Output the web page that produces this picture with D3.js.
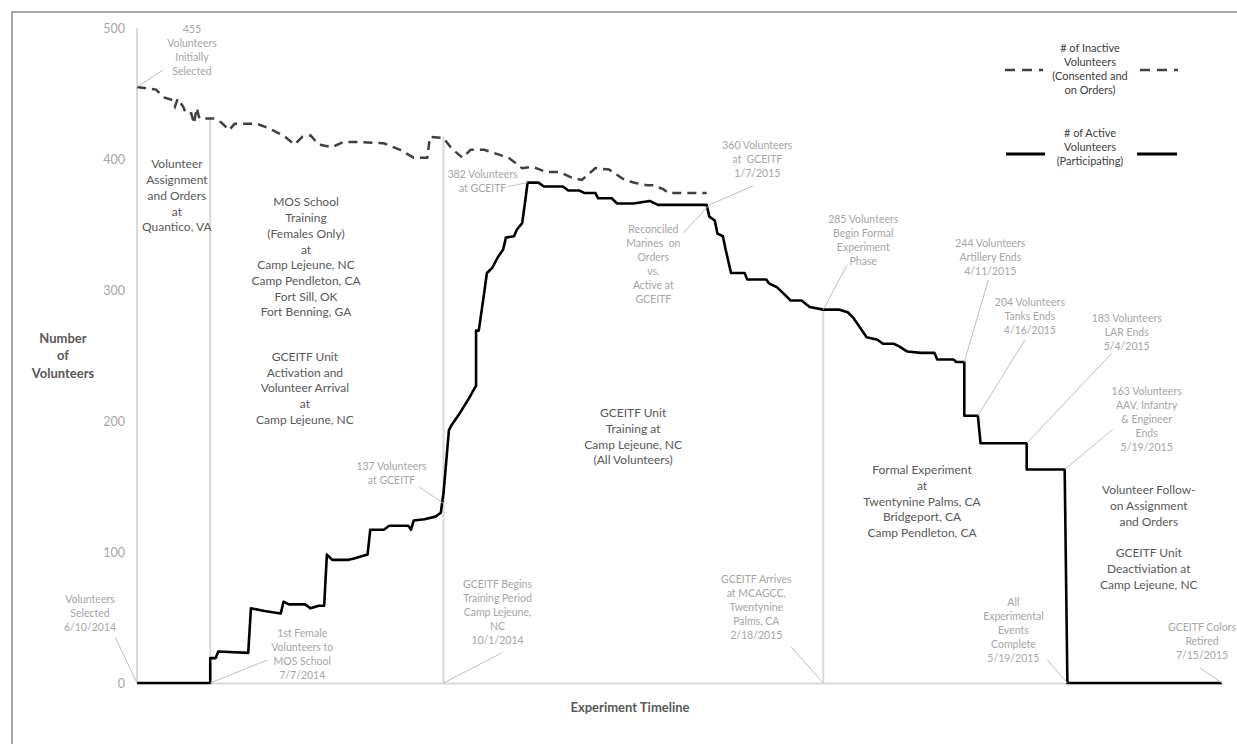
<!DOCTYPE html>
<html>
<head>
<meta charset="utf-8">
<script src="https://cdn.jsdelivr.net/npm/d3@7"></script>
<style>
  body { margin: 0; background: #fff; }
  svg text { font-family: Lato, "Open Sans", sans-serif; }
</style>
</head>
<body>
<script>
var w = 1237;
var h = 744;

// timeline: day 0 = volunteers selected 6/10/2014
var startDate = new Date(2014, 5, 10);
var endDate = new Date(2015, 6, 15);
var yTicks = [0, 100, 200, 300, 400, 500];

var activeDay = [0, 27, 27, 29, 30, 41, 42, 47, 53, 54, 56, 62, 64, 67, 69, 70, 72, 78, 80, 85,
  86, 91, 93, 100, 101, 102, 106, 110, 112, 113, 115, 116, 119, 122, 125, 125, 126, 128, 129, 131,
  133, 135, 136, 139, 140, 142, 143, 144, 148, 150, 157, 159, 163, 165, 169, 170, 175, 177, 183, 189,
  192, 210, 211, 213, 214, 216, 217, 219, 224, 225, 232, 233, 236, 238, 241, 245, 248, 253, 259, 262,
  264, 266, 269, 273, 275, 279, 281, 284, 289, 294, 295, 301, 302, 305, 305, 310, 311, 328, 328, 342,
  343, 400];
var activeCount = [0, 0, 19, 19, 24, 23, 57, 55, 53, 62, 60, 60, 57, 59, 59, 98, 94, 94, 95, 98,
  117, 117, 120, 120, 117, 124, 125, 127, 130, 145, 193, 197, 206, 216, 227, 269, 269, 298, 313, 317,
  325, 331, 340, 341, 346, 351, 366, 382, 382, 379, 379, 376, 376, 374, 374, 370, 370, 366, 366, 368,
  365, 365, 356, 353, 343, 341, 331, 313, 313, 308, 308, 305, 302, 298, 292, 292, 287, 285, 285, 283,
  279, 273, 264, 262, 259, 259, 257, 253, 252, 252, 247, 247, 245, 245, 204, 204, 183, 183, 163, 163,
  0, 0];

var inactiveDay = [0, 7, 10, 13, 14, 15, 17, 18, 20, 21, 22, 23, 28, 31, 34, 36, 44, 48, 54, 58,
  61, 64, 67, 72, 76, 82, 91, 97, 102, 107, 108, 113, 116, 120, 123, 128, 131, 137, 142, 146,
  151, 156, 160, 164, 169, 174, 179, 183, 188, 190, 194, 196, 210];
var inactiveCount = [455, 453, 447, 445, 440, 446, 440, 435, 435, 427, 439, 431, 431, 428, 422, 427, 427, 424, 418, 411,
  417, 418, 411, 409, 413, 413, 412, 407, 401, 401, 417, 416, 408, 401, 407, 407, 405, 401, 393, 394,
  390, 390, 386, 384, 393, 392, 385, 382, 380, 380, 377, 374, 374];

// phase separators
var phaseDay = [0, 27, 113, 253];
var phaseTop = [500, 431, 417, 285];

// call-outs
var noteText = [
  ["455", "Volunteers", "Initially", "Selected"],
  ["Volunteers", "Selected", "6/10/2014"],
  ["1st Female", "Volunteers to", "MOS School", "7/7/2014"],
  ["GCEITF Begins", "Training Period", "Camp Lejeune,", "NC", "10/1/2014"],
  ["137 Volunteers", "at GCEITF"],
  ["382 Volunteers", "at GCEITF"],
  ["360 Volunteers", "at  GCEITF", "1/7/2015"],
  ["Reconciled", "Marines  on", "Orders", "vs.", "Active at", "GCEITF"],
  ["285 Volunteers", "Begin Formal", "Experiment", "Phase"],
  ["244 Volunteers", "Artillery Ends", "4/11/2015"],
  ["204 Volunteers", "Tanks Ends", "4/16/2015"],
  ["183 Volunteers", "LAR Ends", "5/4/2015"],
  ["163 Volunteers", "AAV, Infantry", "& Engineer", "Ends", "5/19/2015"],
  ["GCEITF Arrives", "at MCAGCC,", "Twentynine", "Palms, CA", "2/18/2015"],
  ["All", "Experimental", "Events", "Complete", "5/19/2015"],
  ["GCEITF Colors", "Retired", "7/15/2015"]
];
var noteDay = [0, 0, 27, 113, 113, 144, 211, 211, 253, 305, 310, 328, 342, 253, 343, 400];
var noteValue = [455, 0, 0, 0, 137, 382, 365, 365, 285, 245, 204, 183, 163, 0, 0, 0];

var regionText = [
  ["Volunteer", "Assignment", "and Orders", "at", "Quantico, VA"],
  ["MOS School", "Training", "(Females Only)", "at", "Camp Lejeune, NC", "Camp Pendleton, CA", "Fort Sill, OK", "Fort Benning, GA"],
  ["GCEITF Unit", "Activation and", "Volunteer Arrival", "at", "Camp Lejeune, NC"],
  ["GCEITF Unit", "Training at", "Camp Lejeune, NC", "(All Volunteers)"],
  ["Formal Experiment", "at", "Twentynine Palms, CA", "Bridgeport, CA", "Camp Pendleton, CA"],
  ["Volunteer Follow-", "on Assignment", "and Orders"],
  ["GCEITF Unit", "Deactiviation at", "Camp Lejeune, NC"]
];

var legendText = [
  ["# of Inactive", "Volunteers", "(Consented and", "on Orders)"],
  ["# of Active", "Volunteers", "(Participating)"]
];

// layout only (pixel offsets from the call-out point, and region label anchors)
var noteLeader = [[26, -17], [-22, -46], [57, -23], [58, -30], [-25, -17], [-20, 4], [44, -19], [-26, 28],
  [24, -45], [24, -82], [47, -76], [85, -90], [48, -40], [-32, -36], [-20, -23], [-22, -15]];
var noteLabel = [[55, -58], [-47, -84], [92, -50], [54, -99], [-52, -37], [-45, -8], [48, -60], [-56, 24],
  [40, -90], [26, -119], [52, -113], [100, -125], [82, -78], [-67, -104], [-54, -81], [-20, -56]];
var regionAt = [[14.7, 396], [62.3, 367], [61.9, 249], [182.9, 206], [289.4, 162.6], [373, 147.3], [373, 99.2]];

var svg = d3.select("body").append("svg")
  .attr("width", w)
  .attr("height", h)
  .style("background-color", "white");

svg.append("rect")
  .attr("x", 12).attr("y", 12)
  .attr("width", w).attr("height", h)
  .attr("fill", "none")
  .attr("stroke", "#8c8c8c")
  .attr("stroke-width", 1.5);

function dayDate(d) {
  return d3.timeDay.offset(startDate, Math.floor(d)).getTime() + (d % 1) * 864e5;
}

var x = d3.scaleTime()
  .domain([startDate, endDate])
  .range([137, 1222]);
var y = d3.scaleLinear()
  .domain([0, 500])
  .range([683, 28]);

function multiline(g, lines, cx, cy, lh) {
  var t = g.append("text").attr("text-anchor", "middle").style("white-space", "pre");
  lines.forEach(function (s, i) {
    t.append("tspan")
      .attr("x", cx)
      .attr("y", cy + i * lh)
      .attr("dy", "0.35em")
      .text(s);
  });
  return t;
}

// x axis line
svg.append("g")
  .attr("transform", "translate(0," + y(0) + ")")
  .call(d3.axisBottom(x).tickValues([]).tickSizeOuter(0))
  .select(".domain")
  .attr("stroke", "#d9d9d9")
  .attr("stroke-width", 2);

// y axis labels
var yAxis = svg.append("g")
  .attr("transform", "translate(" + x(startDate) + ",0)")
  .call(d3.axisLeft(y).tickValues(yTicks).tickSize(0).tickPadding(12));
yAxis.select(".domain").remove();
yAxis.selectAll("text")
  .attr("fill", "#a6a6a6")
  .style("font-size", "12.5px")
  .style("font-family", "Lato, sans-serif");

// phase separators
svg.selectAll(".phase")
  .data(d3.zip(phaseDay, phaseTop))
  .join("line")
  .attr("class", "phase")
  .attr("x1", function (d) { return x(dayDate(d[0])); })
  .attr("x2", function (d) { return x(dayDate(d[0])); })
  .attr("y1", y(0))
  .attr("y2", function (d) { return y(d[1]); })
  .attr("stroke", "#d9d9d9")
  .attr("stroke-width", 2);

var line = d3.line()
  .x(function (d) { return x(dayDate(d[0])); })
  .y(function (d) { return y(d[1]); });

svg.append("path")
  .datum(d3.zip(inactiveDay, inactiveCount))
  .attr("d", line)
  .attr("fill", "none")
  .attr("stroke", "#404040")
  .attr("stroke-width", 2.5)
  .attr("stroke-dasharray", "9,6");

svg.append("path")
  .datum(d3.zip(activeDay, activeCount))
  .attr("d", line)
  .attr("fill", "none")
  .attr("stroke", "#000")
  .attr("stroke-width", 2.6)
  .attr("stroke-linejoin", "round");

// call-outs with leader lines
var notes = svg.append("g")
  .attr("fill", "#a6a6a6")
  .style("font-size", "10.5px");
noteText.forEach(function (lines, i) {
  var px = x(dayDate(noteDay[i]));
  var py = y(noteValue[i]);
  notes.append("line")
    .attr("x1", px).attr("y1", py)
    .attr("x2", px + noteLeader[i][0]).attr("y2", py + noteLeader[i][1])
    .attr("stroke", "#bfbfbf")
    .attr("stroke-width", 1);
  multiline(notes, lines, px + noteLabel[i][0], py + noteLabel[i][1], 14);
});

// phase descriptions
var regions = svg.append("g")
  .attr("fill", "#595959")
  .style("font-size", "12px");
regionText.forEach(function (lines, i) {
  multiline(regions, lines, x(dayDate(regionAt[i][0])), y(regionAt[i][1]), 15.7);
});

// axis titles
var titles = svg.append("g")
  .attr("fill", "#595959")
  .style("font-size", "13px")
  .style("font-weight", "bold");
multiline(titles, ["Number", "of", "Volunteers"], 63, 338, 17.5);
multiline(titles, ["Experiment Timeline"], 630, 707, 16);

// legend
var legend = svg.append("g")
  .attr("fill", "#404040")
  .style("font-size", "11px");
multiline(legend, legendText[0], 1090, 48, 14);
multiline(legend, legendText[1], 1090, 133, 14);
[[1005, 1043], [1140, 1178]].forEach(function (s) {
  legend.append("line")
    .attr("x1", s[0]).attr("x2", s[1]).attr("y1", 70).attr("y2", 70)
    .attr("stroke", "#404040").attr("stroke-width", 2.6)
    .attr("stroke-dasharray", "10,7");
});
[[1006, 1045], [1137, 1177]].forEach(function (s) {
  legend.append("line")
    .attr("x1", s[0]).attr("x2", s[1]).attr("y1", 154).attr("y2", 154)
    .attr("stroke", "#000").attr("stroke-width", 3);
});
</script>
</body>
</html>
